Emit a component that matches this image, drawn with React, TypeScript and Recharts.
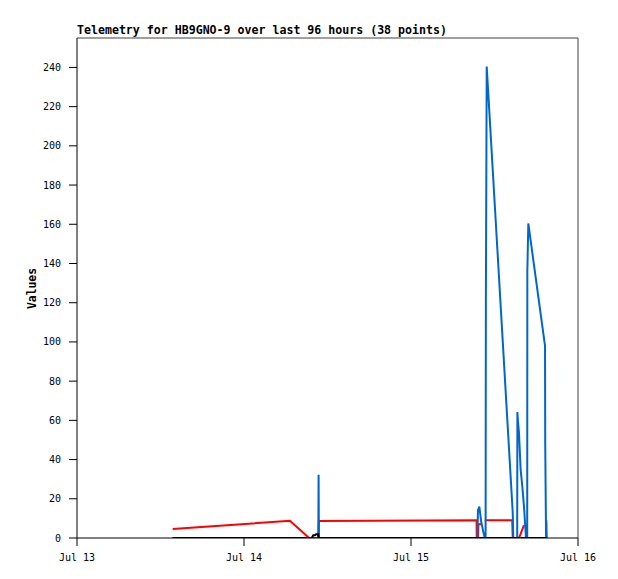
import { LineChart, Line, XAxis, YAxis, ReferenceLine } from "recharts"

// hours since Jul 13 00:00
const xTicks = [0, 24, 48, 72]
const xTickLabels = ["Jul 13", "Jul 14", "Jul 15", "Jul 16"]
const yTicks = [0, 20, 40, 60, 80, 100, 120, 140, 160, 180, 200, 220, 240]

const redTimes = [13.75, 30.6, 33.35, 34.7, 34.76, 57.42, 57.45, 57.65, 57.68, 58.13, 58.3, 58.6, 62.55, 62.62, 63.52, 64.24, 64.3, 67.45, 67.5]
const redValues = [4.6, 8.8, 0, 0, 8.7, 9, 0, 0, 7, 7, null, 9, 9, 0, 0, 6.6, null, 9, 0]

const blueTimes = [13.75, 34.68, 34.72, 34.76, 57.55, 57.62, 57.82, 58.1, 58.4, 58.6, 58.72, 58.76, 58.88, 62.62, 62.7, 63.26, 63.29, 63.36, 63.52, 63.76, 64.0, 64.24, 64.53, 64.7, 64.72, 64.86, 67.26, 67.29, 67.41]
const blueValues = [0, 0, 32.2, 0, 0, 14, 16, 8, 3, 0, 0, 120.5, 240.4, 13, 0, 0, 64.2, 60, 53.5, 34.7, 26.2, 16, 0, 0, 136, 160.4, 98, 48.4, 0]

const blackTimes = [13.75, 33.73, 33.96, 34.2, 34.35, 34.67, 34.74, 67.5]
const blackValues = [0, 0, 1.4, 1.4, 1.9, 1.9, 0, 0]

const toSeries = (times: number[], values: (number | null)[]) =>
  times.map((t, i) => ({ t, v: values[i] }))

const redData = toSeries(redTimes, redValues)
const blueData = toSeries(blueTimes, blueValues)
const blackData = toSeries(blackTimes, blackValues)

const tickFont = { fontSize: 10, fontFamily: "DejaVu Sans Mono", fill: "#000" }

export default function App() {
  return (
    <div style={{ position: "absolute", left: 0, top: 0, width: 618, height: 579, background: "#fff" }}>
      <svg width={618} height={579} style={{ position: "absolute", left: 0, top: 0 }}>
        <text x={77} y={34} fontFamily="DejaVu Sans Mono" fontWeight="bold" fontSize={11.6} fill="#000">
          Telemetry for HB9GNO-9 over last 96 hours (38 points)
        </text>
        <text
          transform="translate(35.5,288.5) rotate(-90)"
          textAnchor="middle"
          fontFamily="DejaVu Sans Mono"
          fontWeight="bold"
          fontSize={11.4}
          fill="#000"
        >
          Values
        </text>
      </svg>
      <div style={{ position: "absolute", left: 0, top: 0 }}>
        <LineChart width={618} height={579} margin={{ top: 38, right: 40, left: 17, bottom: 11 }}>
          <XAxis
            type="number"
            dataKey="t"
            domain={[0, 72]}
            ticks={xTicks}
            tickFormatter={(v) => xTickLabels[xTicks.indexOf(v)]}
            tick={tickFont}
            tickSize={8}
            tickMargin={8}
            height={30}
            stroke="#000"
            allowDataOverflow
          />
          <YAxis
            type="number"
            domain={[0, 255]}
            ticks={yTicks}
            tick={tickFont}
            tickSize={8}
            tickMargin={8}
            width={60}
            stroke="#000"
            allowDataOverflow
          />
          <ReferenceLine y={255} stroke="#404040" />
          <ReferenceLine x={72} stroke="#404040" />
          <Line data={redData} dataKey="v" type="linear" stroke="#ff0000" strokeWidth={2} dot={false} connectNulls={false} isAnimationActive={false} />
          <Line data={blueData} dataKey="v" type="linear" stroke="#0066cc" strokeWidth={2} dot={false} isAnimationActive={false} />
          <Line data={blackData} dataKey="v" type="linear" stroke="#000" strokeWidth={2} dot={false} isAnimationActive={false} />
        </LineChart>
      </div>
    </div>
  )
}
